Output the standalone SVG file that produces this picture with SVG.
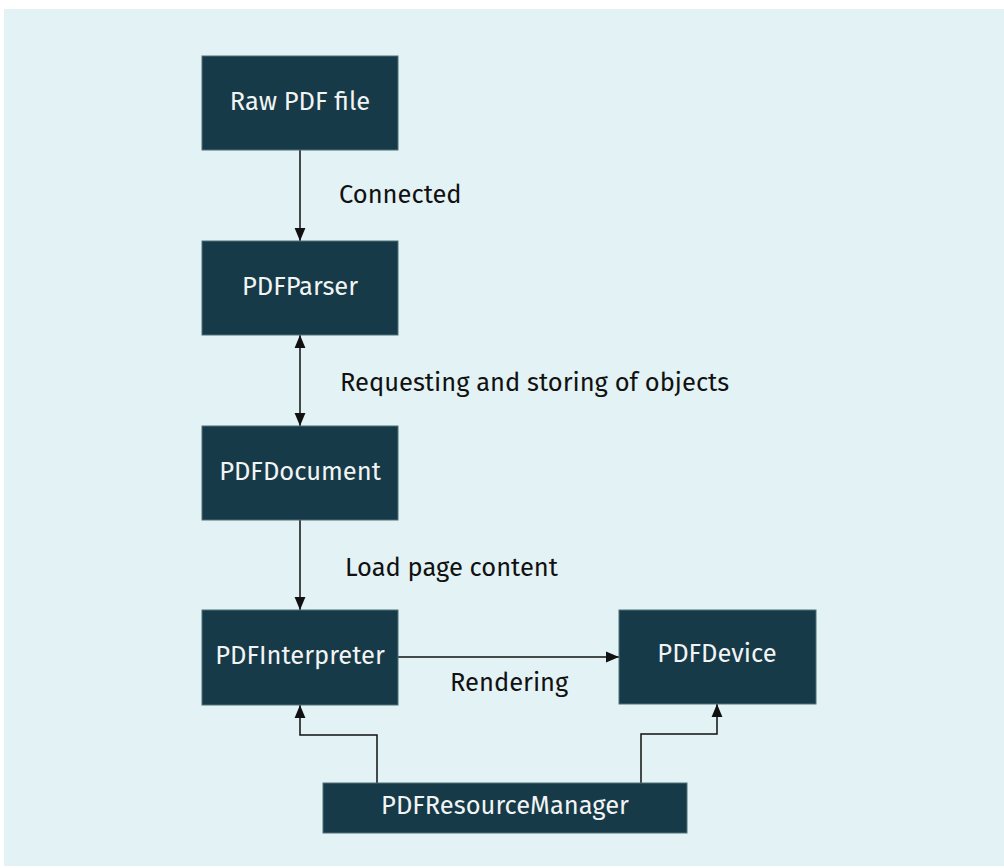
<svg xmlns="http://www.w3.org/2000/svg" width="1004" height="868" viewBox="0 0 1004 868">
<style>
.node rect{fill:#163a48;stroke:#4f707b;stroke-width:1}
.node text{fill:#f2f4f4;font-family:"Fira Sans","Noto Sans","Open Sans",sans-serif;font-size:25.5px;text-anchor:middle}
.lbl{fill:#111;font-family:"Fira Sans","Noto Sans","Open Sans",sans-serif;font-size:25.5px}
.edge{fill:none;stroke:#111;stroke-width:1.5}
</style>
<defs>
<marker id="ah" viewBox="0 0 12 12" refX="12" refY="6" markerWidth="13" markerHeight="13" markerUnits="userSpaceOnUse" orient="auto-start-reverse">
<path d="M0,1 L12,6 L0,11 Z" fill="#111"/>
</marker>
</defs>
<rect x="4" y="9" width="1000" height="857" fill="#e3f2f4"/>
<g id="connectors">
<path class="edge" d="M300,150 V241" marker-end="url(#ah)"/>
<path class="edge" d="M300,335 V426" marker-start="url(#ah)" marker-end="url(#ah)"/>
<path class="edge" d="M300,520 V610" marker-end="url(#ah)"/>
<path class="edge" d="M398,657 H619" marker-end="url(#ah)"/>
<path class="edge" d="M377,783 V735 H300 V705" marker-end="url(#ah)"/>
<path class="edge" d="M641,783 V734 H717 V704" marker-end="url(#ah)"/>
<text class="lbl" x="339" y="203">Connected</text>
<text class="lbl" x="340" y="391">Requesting and storing of objects</text>
<text class="lbl" x="345" y="576">Load page content</text>
<text class="lbl" x="450" y="691">Rendering</text>
</g>
<g id="raw" class="node"><rect x="202" y="56" width="196" height="94"/><text x="300" y="110">Raw PDF file</text></g>
<g id="parser" class="node"><rect x="202" y="241" width="196" height="94"/><text x="300" y="295">PDFParser</text></g>
<g id="document" class="node"><rect x="202" y="426" width="196" height="94"/><text x="300" y="480">PDFDocument</text></g>
<g id="interpreter" class="node"><rect x="202" y="610" width="196" height="95"/><text x="300" y="664">PDFInterpreter</text></g>
<g id="device" class="node"><rect x="619" y="610" width="197" height="94"/><text x="717" y="662">PDFDevice</text></g>
<g id="resmgr" class="node"><rect x="323" y="783" width="364" height="50"/><text x="505" y="814">PDFResourceManager</text></g>
</svg>
